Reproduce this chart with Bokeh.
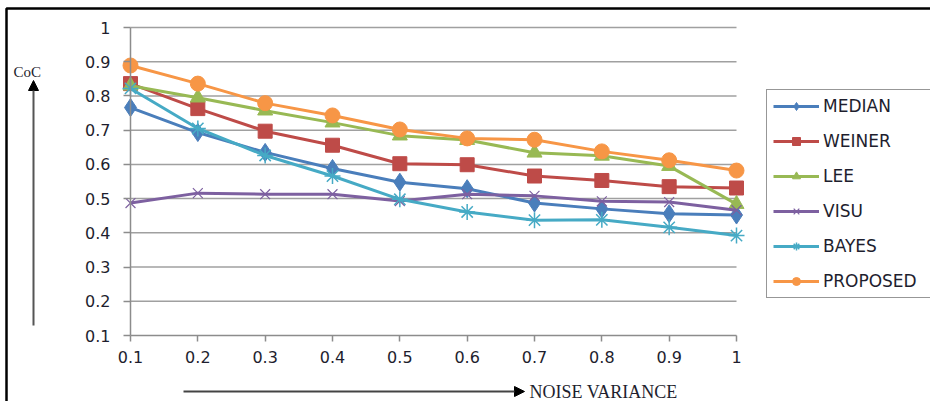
from bokeh.plotting import figure
from bokeh.models import (Legend, LegendItem, FixedTicker, NumeralTickFormatter,
                          Arrow, NormalHead, Label, BoxAnnotation, Range1d,
                          LinearAxis)
from bokeh.embed import file_html
from bokeh.resources import INLINE

noise_variance = [0.1, 0.2, 0.3, 0.4, 0.5, 0.6, 0.7, 0.8, 0.9, 1.0]
median = [0.766, 0.693, 0.635, 0.588, 0.548, 0.529, 0.487, 0.470, 0.456, 0.452]
weiner = [0.836, 0.763, 0.697, 0.656, 0.602, 0.599, 0.566, 0.553, 0.535, 0.531]
lee = [0.830, 0.795, 0.757, 0.722, 0.684, 0.671, 0.634, 0.625, 0.595, 0.484]
visu = [0.487, 0.516, 0.513, 0.513, 0.493, 0.513, 0.508, 0.492, 0.490, 0.466]
bayes = [0.822, 0.705, 0.626, 0.566, 0.498, 0.461, 0.437, 0.438, 0.416, 0.392]
proposed = [0.889, 0.836, 0.779, 0.743, 0.702, 0.676, 0.672, 0.638, 0.612, 0.582]
y_ticks = [0.1, 0.2, 0.3, 0.4, 0.5, 0.6, 0.7, 0.8, 0.9, 1.0]
x_ticks = noise_variance

series = [
    ("MEDIAN", median, "#4A7EBB", "diamond", 18, 1),
    ("WEINER", weiner, "#BE4B48", "square", 14, 1),
    ("LEE", lee, "#98B954", "triangle", 15, 1),
    ("VISU", visu, "#7D60A0", "x", 14, 1.2),
    ("BAYES", bayes, "#46AAC5", "asterisk", 16, 1.5),
    ("PROPOSED", proposed, "#F79646", "circle", 15, 1),
]

W, H = 930, 401
# plot region in pixels: x 0.1 -> 130, 1.0 -> 736 ; y 1.0 -> 27, 0.1 -> 335
px_x = (736 - 130) / (x_ticks[-1] - x_ticks[0])
px_y = (335 - 27) / (y_ticks[-1] - y_ticks[0])
x_range = Range1d(x_ticks[0] - 130 / px_x, x_ticks[-1] + (W - 736) / px_x)
y_range = Range1d(y_ticks[0] - (H - 335) / px_y, y_ticks[-1] + 27 / px_y)

p = figure(width=W, height=H, output_backend="svg", toolbar_location=None,
           x_range=x_range, y_range=y_range, x_axis_type=None, y_axis_type=None,
           min_border=0, min_border_left=0, min_border_right=0,
           min_border_top=0, min_border_bottom=0)
p.outline_line_color = None
p.background_fill_color = "white"
p.border_fill_color = "white"
p.xgrid.visible = False
p.ygrid.visible = False

xaxis = LinearAxis(fixed_location=y_ticks[0], bounds=(x_ticks[0], x_ticks[-1]))
yaxis = LinearAxis(fixed_location=x_ticks[0], bounds=(y_ticks[0], y_ticks[-1]))
xaxis.ticker = FixedTicker(ticks=x_ticks)
yaxis.ticker = FixedTicker(ticks=y_ticks)
for ax in (xaxis, yaxis):
    ax.axis_line_color = "#8c8c8c"
    ax.axis_line_width = 1.5
    ax.major_tick_line_color = "#8c8c8c"
    ax.major_tick_line_width = 1.5
    ax.major_tick_in = 0
    ax.minor_tick_line_color = None
    ax.major_label_text_font = "DejaVu Sans"
    ax.major_label_text_font_size = "16px"
    ax.major_label_text_color = "#1e1e2e"
    ax.formatter = NumeralTickFormatter(format="0.[0]")
xaxis.major_tick_out = 6
yaxis.major_tick_out = 7
xaxis.major_label_standoff = 9
yaxis.major_label_standoff = 13
p.add_layout(xaxis, "below")
p.add_layout(yaxis, "left")

# horizontal gridlines spanning only the data extent
p.multi_line(xs=[[x_ticks[0], x_ticks[-1]] for _ in y_ticks[1:]],
             ys=[[t, t] for t in y_ticks[1:]],
             line_color="#a0a0a0", line_width=1.5, level="underlay")

items = []
for name, vals, color, marker, size, lw in series:
    r1 = p.line(noise_variance, vals, line_color=color, line_width=3)
    r2 = p.scatter(noise_variance, vals, marker=marker, size=size, fill_color=color,
                   line_color=color, line_width=lw)
    items.append(LegendItem(label=name, renderers=[r1, r2]))

legend = Legend(items=items, location=(766, H - 298), orientation="vertical",
                glyph_width=46, glyph_height=20, label_height=20, label_width=125,
                spacing=15, padding=6, margin=0, label_standoff=4,
                label_text_font="DejaVu Sans", label_text_font_size="17px",
                label_text_color="#1e1e2e",
                border_line_color="#303030", border_line_width=1.5,
                background_fill_color="white", background_fill_alpha=1)
p.add_layout(legend, "center")

# outer frame (left and top edges visible)
p.add_layout(BoxAnnotation(left=6, right=W + 40, top=H - 8, bottom=-50,
                           left_units="screen", right_units="screen",
                           top_units="screen", bottom_units="screen",
                           fill_color=None, fill_alpha=0, line_color="black",
                           line_alpha=1, line_width=2.5))

# axis arrows and titles
p.add_layout(Arrow(x_start=33, y_start=H - 325, x_end=33, y_end=H - 80,
                   start_units="screen", end_units="screen",
                   line_color="#555555", line_width=2,
                   end=NormalHead(size=10, fill_color="black", line_color="black")))
p.add_layout(Arrow(x_start=183, y_start=H - 391, x_end=524, y_end=H - 391,
                   start_units="screen", end_units="screen",
                   line_color="#444444", line_width=2,
                   end=NormalHead(size=10, fill_color="black", line_color="black")))
p.add_layout(Label(x=13, y=H - 71, x_units="screen", y_units="screen", text="CoC",
                   text_font="Liberation Serif", text_font_size="15px",
                   text_color="#1e1e2e", text_baseline="alphabetic"))
p.add_layout(Label(x=529, y=H - 391, x_units="screen", y_units="screen",
                   text="NOISE VARIANCE",
                   text_font="Liberation Serif", text_font_size="18px",
                   text_color="#1e1e2e", text_baseline="middle"))

open("out.html", "w").write(file_html(p, INLINE))
